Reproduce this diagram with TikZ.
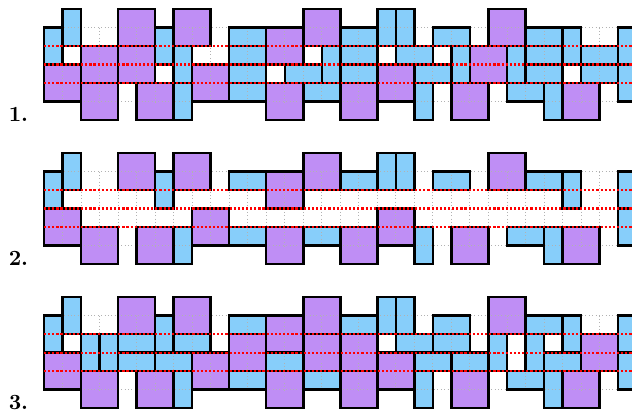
\documentclass[tikz,border=0pt]{standalone}
\definecolor{tb}{RGB}{135,206,250}
\definecolor{tp}{RGB}{191,142,245}
\tikzset{
  edge/.style={draw=black, line width=1.15pt, line join=miter},
  gridln/.style={black!30, line width=0.45pt, dash pattern=on 0.45pt off 1.1pt},
  redln/.style={red, line width=1pt, dash pattern=on 1pt off 0.9pt},
  lbl/.style={anchor=base west, inner sep=0pt, font=\bfseries}
}
\newcommand\baseT{%
\T{0}{1}{1}{2}{tb}\T{1}{0}{1}{2}{tb}\T{4}{0}{2}{2}{tp}\T{6}{1}{1}{2}{tb}
\T{7}{0}{2}{2}{tp}\T{10}{1}{2}{1}{tb}\T{12}{1}{2}{2}{tp}\T{14}{0}{2}{2}{tp}
\T{16}{1}{2}{1}{tb}\T{18}{0}{1}{2}{tb}\T{19}{0}{1}{2}{tb}\T{21}{1}{2}{1}{tb}
\T{24}{0}{2}{2}{tp}\T{26}{1}{2}{1}{tb}\T{28}{1}{1}{2}{tb}\T{31}{1}{1}{2}{tb}
\T{0}{3}{2}{2}{tp}\T{2}{4}{2}{2}{tp}\T{5}{4}{2}{2}{tp}\T{7}{4}{1}{2}{tb}
\T{8}{3}{2}{2}{tp}\T{10}{4}{2}{1}{tb}\T{12}{4}{2}{2}{tp}\T{14}{4}{2}{1}{tb}
\T{16}{4}{2}{2}{tp}\T{18}{3}{2}{2}{tp}\T{20}{4}{1}{2}{tb}\T{22}{4}{2}{2}{tp}
\T{25}{4}{2}{1}{tb}\T{27}{4}{1}{2}{tb}\T{28}{4}{2}{2}{tp}\T{31}{3}{1}{2}{tb}}
\newcommand\innerA{%
\T{2}{2}{2}{2}{tp}\T{4}{2}{2}{2}{tp}\T{7}{2}{1}{2}{tb}\T{10}{2}{2}{1}{tb}
\T{10}{3}{2}{1}{tb}\T{13}{3}{2}{1}{tb}\T{15}{2}{1}{2}{tb}\T{16}{2}{2}{1}{tb}
\T{16}{3}{2}{1}{tb}\T{19}{2}{2}{1}{tb}\T{20}{3}{2}{1}{tb}\T{22}{2}{1}{2}{tb}
\T{23}{2}{2}{2}{tp}\T{25}{2}{1}{2}{tb}\T{26}{2}{2}{1}{tb}\T{26}{3}{2}{1}{tb}
\T{29}{2}{2}{1}{tb}\T{29}{3}{2}{1}{tb}}
\newcommand\innerB{}
\newcommand\innerC{%
\T{2}{2}{1}{2}{tb}\T{3}{2}{1}{2}{tb}\T{4}{2}{2}{1}{tb}\T{4}{3}{2}{1}{tb}
\T{7}{2}{2}{1}{tb}\T{6}{3}{2}{1}{tb}\T{10}{2}{2}{2}{tp}\T{12}{3}{2}{1}{tb}
\T{14}{2}{2}{2}{tp}\T{16}{2}{2}{2}{tp}\T{19}{2}{2}{1}{tb}\T{20}{3}{2}{1}{tb}
\T{21}{2}{2}{1}{tb}\T{22}{3}{2}{1}{tb}\T{24}{2}{1}{2}{tb}\T{26}{2}{1}{2}{tb}
\T{27}{3}{2}{1}{tb}\T{29}{2}{2}{2}{tp}}
\newcommand\drawpanel[2]{%
\begin{scope}[shift={(2.376,#1)}]
  \def\T##1##2##3##4##5{\fill[##5] (##1,##2) rectangle ++(##3,##4);}
  \baseT #2
  \foreach \i in {0,...,32} \draw[gridln] (\i,1) -- (\i,5);
  \foreach \j in {1,5} \draw[gridln] (0,\j) -- (32,\j);
  \def\T##1##2##3##4##5{\draw[edge] (##1,##2) rectangle ++(##3,##4);}
  \baseT #2
  \foreach \j in {2,3,4} \draw[redln] (0,\j) -- (32,\j);
\end{scope}}
\begin{document}
\begin{tikzpicture}[x=0.3cm, y=-0.3cm]
  \useasboundingbox (0,0) rectangle (34.125,22.246);
  \begin{scope}
    \clip (0,0) rectangle (34.125,22.246);
    \drawpanel{0.486}{\innerA}
    \drawpanel{8.262}{\innerB}
    \drawpanel{16.038}{\innerC}
  \end{scope}
  \node[lbl] (l1) at (0.45,6.57) {1.};
  \node[lbl] (l2) at (0.45,14.31) {2.};
  \node[lbl] (l3) at (0.45,22.10) {3.};
\end{tikzpicture}
\end{document}
